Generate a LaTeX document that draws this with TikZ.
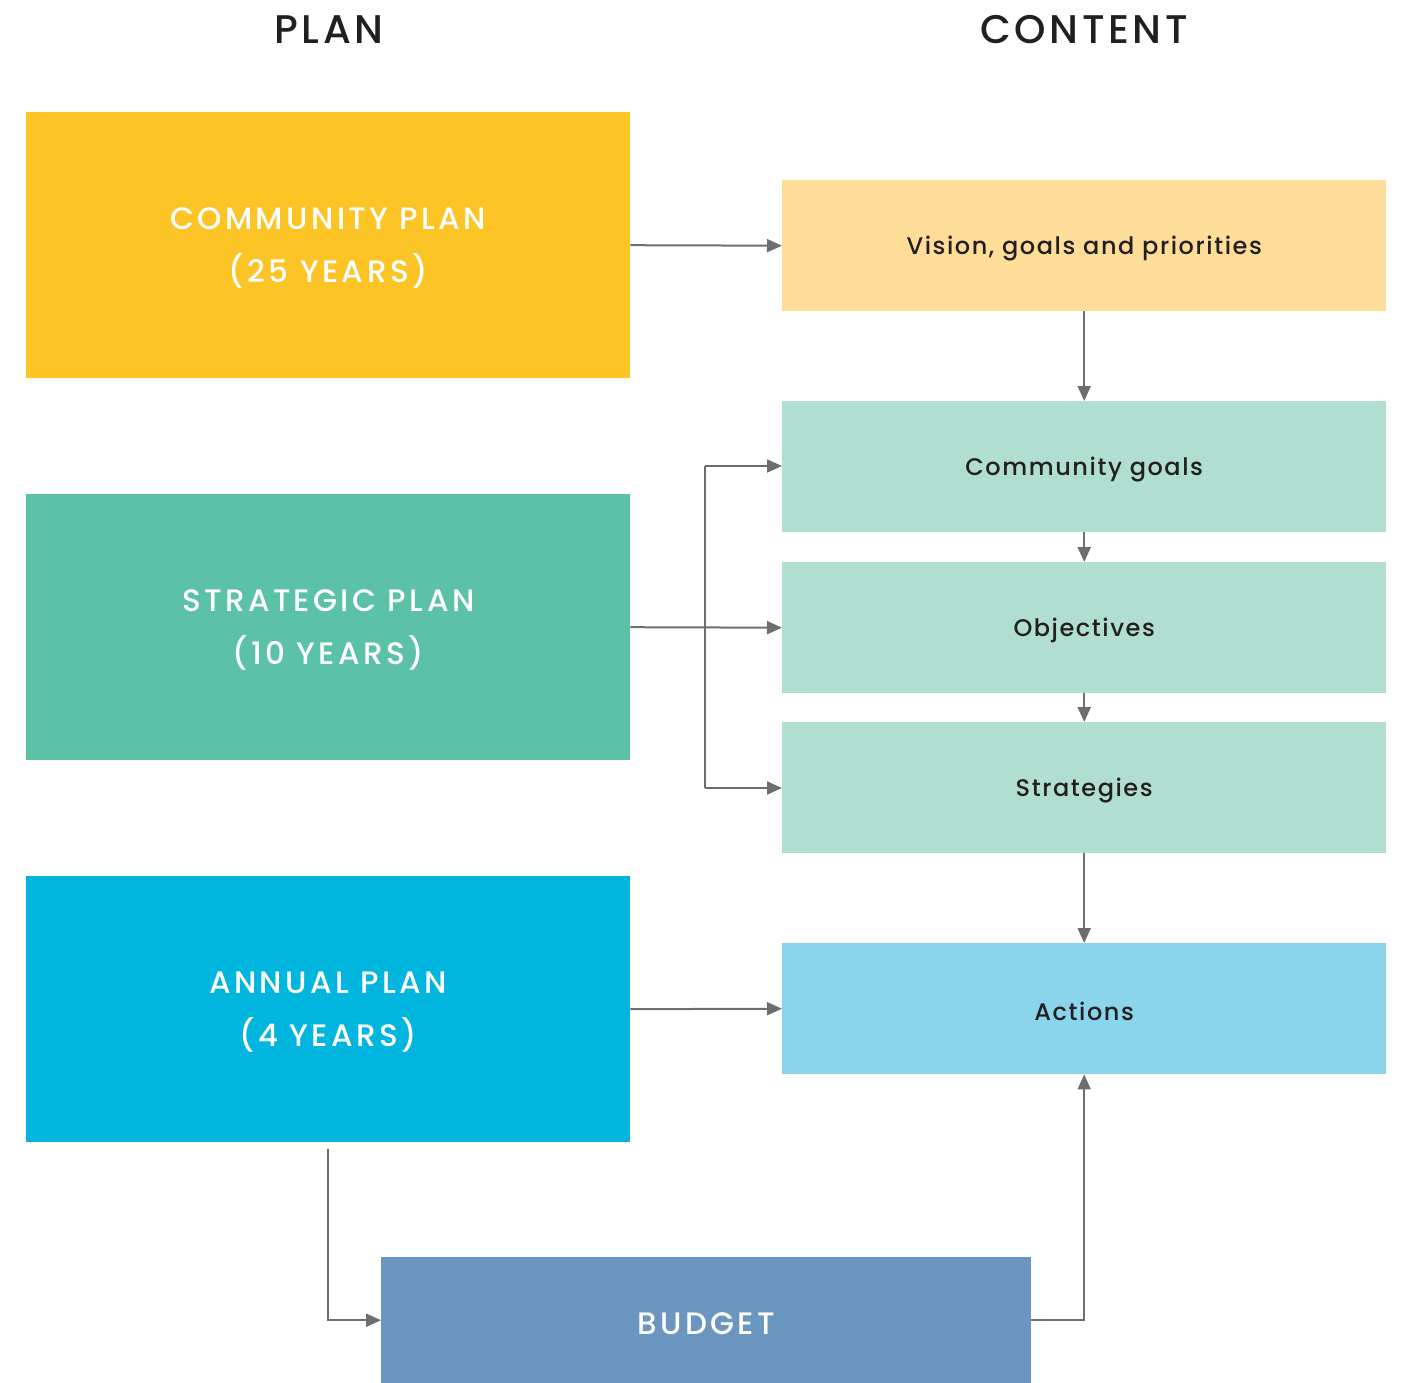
\documentclass[tikz,border=0pt]{standalone}
\usepackage{fontspec}
\setmainfont{Poppins Medium}
\newfontfamily\capsfont{Poppins Medium}[LetterSpace=11]
\newfontfamily\contfont{Poppins Medium}[LetterSpace=6.5]
\newfontfamily\headfont{Poppins Medium}[LetterSpace=9]
\usetikzlibrary{arrows.meta}
\definecolor{cyellow}{HTML}{FDC425}
\definecolor{cgreen}{HTML}{5BC2A7}
\definecolor{cblue}{HTML}{00B5DE}
\definecolor{lyellow}{HTML}{FEDD98}
\definecolor{lgreen}{HTML}{B0DED1}
\definecolor{lblue}{HTML}{8AD5EC}
\definecolor{cbudget}{HTML}{6A96BF}
\definecolor{carrow}{HTML}{6D6E71}
\definecolor{ctext}{HTML}{231F20}
\tikzset{
  planbox/.style={fill=#1, draw=none, minimum width=604pt, minimum height=266pt, anchor=north west, inner sep=0pt},
  plantext/.style={text=white, align=center, inner sep=0pt, font=\capsfont\fontsize{31}{53}\selectfont},
  contbox/.style={fill=#1, draw=none, minimum width=604pt, minimum height=131pt, anchor=north west, inner sep=0pt},
  conttext/.style={text=ctext, inner sep=0pt, font=\contfont\fontsize{24}{28}\selectfont},
  header/.style={text=ctext, font=\headfont\fontsize{40}{44}\selectfont},
  conn/.style={draw=carrow, line width=2pt, -{Triangle[length=15pt,width=13pt]}},
  plain/.style={draw=carrow, line width=2pt}
}
\begin{document}
\begin{tikzpicture}[x=1pt,y=-1pt]
\useasboundingbox (0,0) rectangle (1401,1383);
\node[header] (hplan) at (329,30) {PLAN};
\node[header] (hcont) at (1084,30) {CONTENT};
\node[planbox=cyellow] (cp) at (26,112) {};
\node[planbox=cgreen] (sp) at (26,494) {};
\node[planbox=cblue] (ap) at (26,876) {};
\node[plantext] (cpt) at ([yshift=-3pt]cp.center) {COMMUNITY PLAN\\(25 YEARS)};
\node[plantext] (spt) at ([yshift=-3pt]sp.center) {STRATEGIC PLAN\\(10 YEARS)};
\node[plantext] (apt) at ([yshift=-3pt]ap.center) {ANNUAL PLAN\\(4 YEARS)};
\node[contbox=lyellow] (vis) at (782,180) {};
\node[contbox=lgreen] (cg) at (782,401) {};
\node[contbox=lgreen] (obj) at (782,562) {};
\node[contbox=lgreen] (str) at (782,722) {};
\node[contbox=lblue] (act) at (782,943) {};
\node[conttext] (vis-t) at ([yshift=-3pt]vis.center) {Vision, goals and priorities};
\node[conttext] (cg-t) at ([yshift=-3pt]cg.center) {Community goals};
\node[conttext] (obj-t) at ([yshift=-3pt]obj.center) {Objectives};
\node[conttext] (str-t) at ([yshift=-3pt]str.center) {Strategies};
\node[conttext] (act-t) at ([yshift=-3pt]act.center) {Actions};
\node[fill=cbudget, minimum width=650pt, minimum height=126pt, anchor=north west, inner sep=0pt] (bud) at (381,1257) {};
\node[plantext] (bud-t) at ([yshift=-3pt]bud.center) {BUDGET};
\draw[conn] (cp.east) -- (vis.west);
\draw[conn] (vis.south) -- (cg.north);
\draw[conn] (cg.south) -- (obj.north);
\draw[conn] (obj.south) -- (str.north);
\draw[conn] (str.south) -- (act.north);
\draw[conn] (sp.east) -- (obj.west);
\coordinate (btop) at (705,466);
\coordinate (bbot) at (705,788);
\draw[plain] (btop) -- (bbot);
\draw[conn] (btop) -- (cg.west |- btop);
\draw[conn] (bbot) -- (str.west |- bbot);
\draw[conn] (ap.east) -- (act.west);
\draw[conn] ([yshift=-7pt]ap.south) |- (bud.west);
\draw[conn] (bud.east) -| (act.south);
\end{tikzpicture}
\end{document}
